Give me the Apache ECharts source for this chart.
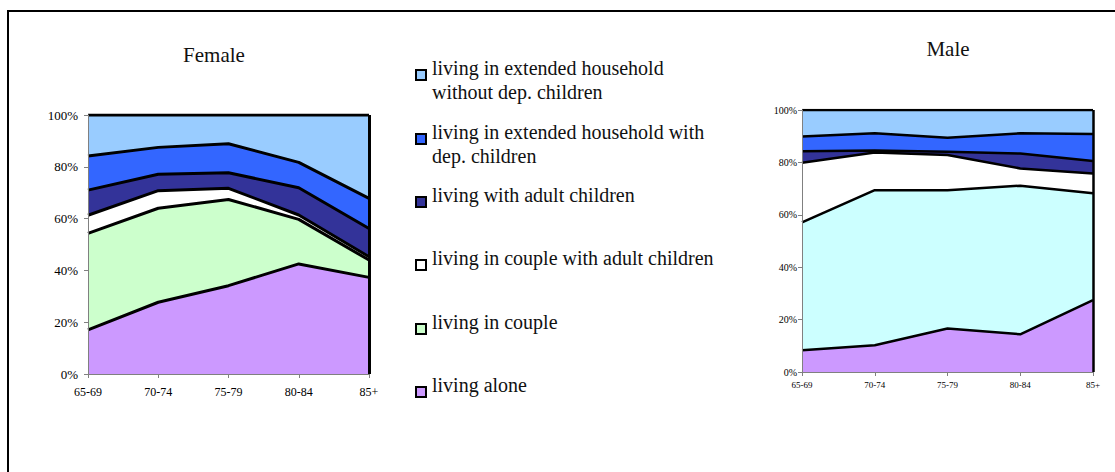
<!DOCTYPE html>
<html>
<head>
<meta charset="utf-8">
<script src="https://cdn.jsdelivr.net/npm/echarts@6/dist/echarts.min.js"></script>
<style>
html,body{margin:0;padding:0;background:#fff;}
#chart{width:1115px;height:472px;}
</style>
</head>
<body>
<div id="chart"></div>
<script>
var categories = ['65-69', '70-74', '75-79', '80-84', '85+'];
var seriesNames = [
  'living alone',
  'living in couple',
  'living in couple with adult children',
  'living with adult children',
  'living in extended household with dep. children',
  'living in extended household without dep. children'
];
var legendLabels = [
  'living alone',
  'living in couple',
  'living in couple with adult children',
  'living with adult children',
  'living in extended household with\ndep. children',
  'living in extended household\nwithout dep. children'
];
var yTicks = [0, 20, 40, 60, 80, 100];

// Female shares (%)
var femaleAlone        = [17.0, 27.7, 34.1, 42.5, 37.3];
var femaleCouple       = [37.3, 36.3, 33.3, 17.2, 6.7];
var femaleCoupleAdult  = [7.0, 6.8, 4.3, 1.7, 1.3];
var femaleAdultChild   = [9.7, 6.3, 6.0, 10.5, 10.9];
var femaleExtDep       = [13.2, 10.4, 11.2, 9.8, 11.6];
var femaleExtNoDep     = [15.8, 12.5, 11.1, 18.3, 32.2];

// Male shares (%)
var maleAlone          = [8.3, 10.2, 16.6, 14.4, 27.4];
var maleCouple         = [48.8, 59.2, 52.8, 56.7, 40.8];
var maleCoupleAdult    = [22.8, 14.4, 13.4, 6.6, 7.6];
var maleAdultChild     = [4.4, 0.7, 1.3, 5.7, 4.7];
var maleExtDep         = [5.6, 6.6, 5.3, 7.7, 10.3];
var maleExtNoDep       = [10.1, 8.9, 10.6, 8.9, 9.2];

var femaleData = [femaleAlone, femaleCouple, femaleCoupleAdult, femaleAdultChild, femaleExtDep, femaleExtNoDep];
var maleData = [maleAlone, maleCouple, maleCoupleAdult, maleAdultChild, maleExtDep, maleExtNoDep];
var femaleColors = ['#CC99FF', '#CCFFCC', '#FFFFFF', '#333399', '#3366FF', '#99CCFF'];
var maleColors = ['#CC99FF', '#CCFFFF', '#FFFFFF', '#333399', '#3366FF', '#99CCFF'];

var FONT = '"Liberation Serif", "DejaVu Serif", serif';

function makeSeries(data, colors, axisIdx, stackName, lw) {
  var out = [];
  for (var i = 0; i < data.length; i++) {
    var s = {
      name: seriesNames[i],
      type: 'line',
      xAxisIndex: axisIdx,
      yAxisIndex: axisIdx,
      stack: stackName,
      data: data[i],
      symbol: 'none',
      silent: true,
      lineStyle: { color: '#000', width: lw },
      areaStyle: { color: colors[i], opacity: 1 },
      itemStyle: { color: colors[i] },
      z: 2
    };
    if (i === data.length - 1) {
      s.markLine = {
        silent: true,
        symbol: 'none',
        label: { show: false },
        lineStyle: { color: '#000', width: lw, type: 'solid' },
        data: [[{ coord: [categories.length - 1, 0] }, { coord: [categories.length - 1, 100] }]]
      };
    }
    out.push(s);
  }
  return out;
}

function xAxisCfg(idx, fs, margin) {
  return {
    type: 'category',
    gridIndex: idx,
    data: categories,
    boundaryGap: false,
    axisLine: { lineStyle: { color: '#808080', width: 1 } },
    axisTick: { show: true, length: 4, lineStyle: { color: '#808080' } },
    axisLabel: { color: '#000', fontFamily: FONT, fontSize: fs, margin: margin, interval: 0 },
    splitLine: { show: false },
    z: 5
  };
}
function yAxisCfg(idx, fs, margin) {
  return {
    type: 'value',
    gridIndex: idx,
    min: yTicks[0], max: yTicks[yTicks.length - 1], interval: yTicks[1] - yTicks[0],
    axisLine: { show: true, lineStyle: { color: '#808080', width: 1 } },
    axisTick: { show: true, length: 4, lineStyle: { color: '#808080' } },
    axisLabel: { color: '#000', fontFamily: FONT, fontSize: fs, margin: margin, formatter: '{value}%' },
    splitLine: { show: false },
    z: 5
  };
}

// legend graphics
var legendRows = [
  { idx: 5, y: 68 },
  { idx: 4, y: 132 },
  { idx: 3, y: 195 },
  { idx: 2, y: 258 },
  { idx: 1, y: 322 },
  { idx: 0, y: 385 }
];
var graphics = [
  { type: 'line', shape: { x1: 7, y1: 11, x2: 1115, y2: 11 }, style: { stroke: '#000', lineWidth: 2 } },
  { type: 'line', shape: { x1: 8, y1: 10, x2: 8, y2: 472 }, style: { stroke: '#000', lineWidth: 2 } },
  { type: 'text', x: 214, y: 55, style: { text: 'Female', font: '21px ' + FONT, fill: '#111', textAlign: 'center', textVerticalAlign: 'middle' } },
  { type: 'text', x: 948, y: 49, style: { text: 'Male', font: '21px ' + FONT, fill: '#111', textAlign: 'center', textVerticalAlign: 'middle' } }
];
legendRows.forEach(function (r) {
  graphics.push({
    type: 'rect',
    shape: { x: 416, y: r.y + 2, width: 10, height: 10 },
    style: { fill: femaleColors[r.idx], stroke: '#000', lineWidth: 2 }
  });
  graphics.push({
    type: 'text',
    x: 432, y: r.y - 12,
    style: { text: legendLabels[r.idx], font: '20px ' + FONT, fill: '#111', lineHeight: 24, textVerticalAlign: 'top' }
  });
});

var chart = echarts.init(document.getElementById('chart'), null, { renderer: 'svg' });
chart.setOption({
  backgroundColor: '#fff',
  animation: false,
  grid: [
    { left: 88, top: 115, right: 746, bottom: 98, containLabel: false },
    { left: 802, top: 110, right: 22, bottom: 100, containLabel: false }
  ],
  xAxis: [xAxisCfg(0, 12, 12), xAxisCfg(1, 9, 8)],
  yAxis: [yAxisCfg(0, 13, 10), yAxisCfg(1, 10, 5)],
  series: makeSeries(femaleData, femaleColors, 0, 'female', 3).concat(makeSeries(maleData, maleColors, 1, 'male', 2.5)),
  graphic: graphics
});
</script>
</body>
</html>
